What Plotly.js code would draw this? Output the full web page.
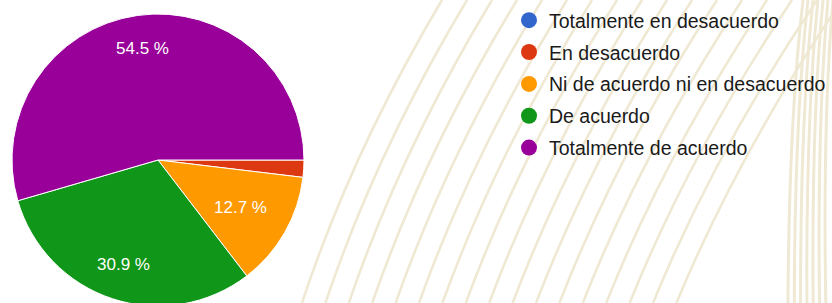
<!DOCTYPE html>
<html>
<head>
<meta charset="utf-8">
<script src="https://cdn.plot.ly/plotly-3.0.1.min.js"></script>
<style>
html,body{margin:0;padding:0;overflow:hidden;background:#fff;}
#chart{width:870px;height:312px;}
</style>
</head>
<body>
<div id="chart"></div>
<script>
// ---- data ----
const categories = ['Totalmente en desacuerdo', 'En desacuerdo', 'Ni de acuerdo ni en desacuerdo', 'De acuerdo', 'Totalmente de acuerdo'];
const values = [0, 1.9, 12.7, 30.9, 54.5];
const colors = ['#3366cc', '#dc3912', '#ff9900', '#109618', '#990099'];

// ---- figure ----
const W = 870, H = 312;                      // slightly wider than the window so the legend is not pushed
const CX = 158, CY = 160, R = 146;           // pie centre / radius in px
const labelRadius = [0.7, 0.7, 0.65, 0.755, 0.77]; // label distance (fraction of radius)
const total = values.reduce((a, b) => a + b, 0);

const traces = [{
  type: 'pie',
  values: values,
  labels: categories,
  textinfo: 'none',
  sort: false,
  direction: 'clockwise',
  rotation: 90,
  marker: {colors: colors, line: {color: '#ffffff', width: 1}},
  domain: {x: [(CX - R) / W, (CX + R) / W], y: [(H - CY - R) / H, (H - CY + R) / H]},
  showlegend: false,
  hoverinfo: 'skip'
}];
categories.forEach((c, i) => {
  traces.push({
    type: 'scatter', mode: 'markers', x: [null], y: [null], name: c,
    legendgroup: 'g' + i,
    marker: {color: colors[i], size: 18, symbol: 'circle'},
    hoverinfo: 'skip'
  });
});

// slice percentage labels placed on each slice's mid-angle
const annotations = [];
let cum = 0;
values.forEach((v, i) => {
  const pct = v / total * 100;
  const a = 2 * Math.PI * (cum + v / 2) / total; // clockwise from 3 o'clock
  cum += v;
  if (pct < 5) return;
  const x = CX + labelRadius[i] * R * Math.cos(a);
  const y = CY + labelRadius[i] * R * Math.sin(a);
  annotations.push({
    xref: 'paper', yref: 'paper', x: x / W, y: 1 - y / H,
    xanchor: 'center', yanchor: 'middle', showarrow: false,
    text: pct.toFixed(1) + ' %',
    font: {family: 'Arial, Liberation Sans, sans-serif', size: 17, color: '#ffffff'}
  });
});

// decorative background lines (paper coordinates from pixel positions)
const px = x => (x / W).toFixed(4);
const py = y => (1 - y / H).toFixed(4);
const shapes = [];
for (let i = 0; i < 17; i++) {
  shapes.push({
    type: 'path', xref: 'paper', yref: 'paper', layer: 'below',
    path: `M ${px(302 + 23.4 * i)} ${py(303)} Q ${px(352 + 24.2 * i)} ${py(151.5)} ${px(442 + 25 * i)} ${py(0)}`,
    line: {color: '#efe9d4', width: 2.6}
  });
}
for (let j = 0; j < 7; j++) {
  shapes.push({
    type: 'path', xref: 'paper', yref: 'paper', layer: 'below',
    path: `M ${px(788 + 6.3 * j)} ${py(303)} Q ${px(789 + 5.6 * j)} ${py(120)} ${px(803 + 5 * j)} ${py(0)}`,
    line: {color: '#efe9d4', width: 3}
  });
}

const layout = {
  width: W, height: H,
  margin: {l: 0, r: 0, t: 0, b: 0},
  paper_bgcolor: '#ffffff', plot_bgcolor: 'rgba(0,0,0,0)',
  xaxis: {visible: false}, yaxis: {visible: false},
  showlegend: true,
  legend: {
    x: 509 / W, xanchor: 'left', y: 1 - 1 / H, yanchor: 'top',
    bgcolor: 'rgba(0,0,0,0)',
    font: {family: 'Arial, Liberation Sans, sans-serif', size: 19.5, color: '#1a1a1a'},
    tracegroupgap: 3.5,
    itemclick: false, itemdoubleclick: false
  },
  annotations: annotations,
  shapes: shapes
};

Plotly.newPlot('chart', traces, layout, {displayModeBar: false, staticPlot: true});
</script>
</body>
</html>
